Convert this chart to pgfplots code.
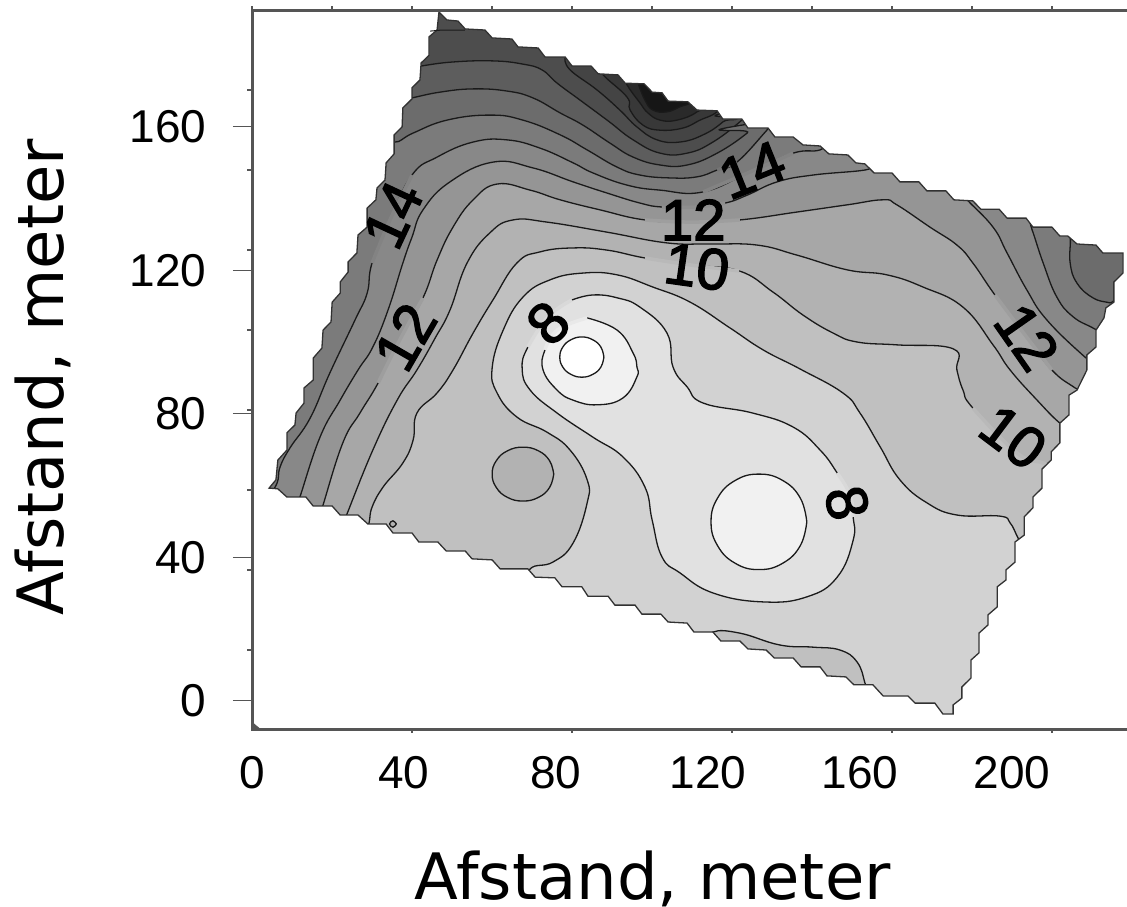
\documentclass[border=0pt]{standalone}
\usepackage{fontspec}
\setmainfont{Liberation Sans}
\newfontfamily\titlefont{DejaVu Sans}
\newfontfamily\labfont[FakeBold=2.5]{Liberation Sans}
\usepackage{pgfplots}
\pgfplotsset{compat=1.18}
\definecolor{ctr}{HTML}{1A1A1A}
\definecolor{spine}{HTML}{555555}
\definecolor{edgec}{RGB}{50,50,50}
\definecolor{g22}{RGB}{22,22,22}
\definecolor{g42}{RGB}{42,42,42}
\definecolor{g56}{RGB}{56,56,56}
\definecolor{g68}{RGB}{68,68,68}
\definecolor{g77}{RGB}{77,77,77}
\definecolor{g93}{RGB}{93,93,93}
\definecolor{g108}{RGB}{108,108,108}
\definecolor{g116}{RGB}{116,116,116}
\definecolor{g123}{RGB}{123,123,123}
\definecolor{g131}{RGB}{131,131,131}
\definecolor{g138}{RGB}{136,136,136}
\definecolor{g145}{RGB}{142,142,142}
\definecolor{g152}{RGB}{149,149,149}
\definecolor{g160}{RGB}{158,158,158}
\definecolor{g167}{RGB}{167,167,167}
\definecolor{g178}{RGB}{178,178,178}
\definecolor{g185}{RGB}{185,185,185}
\definecolor{g192}{RGB}{192,192,192}
\definecolor{g210}{RGB}{210,210,210}
\definecolor{g217}{RGB}{217,217,217}
\definecolor{g225}{RGB}{225,225,225}
\definecolor{g233}{RGB}{233,233,233}
\definecolor{g241}{RGB}{241,241,241}
\pgfplotsset{
  lev/.style={fill=#1,draw=ctr,line width=1.3pt,smooth,tension=0.75},
  gapl/.style={draw=#1,line width=3.5pt,smooth,tension=0.75}
}
\tikzset{lab/.style={font=\labfont\fontsize{58}{58}\selectfont,inner sep=0pt,anchor=center,text=black}}
\def\bnd{(49.2,191.9) (51.3,189.7) (54.2,189.4) (56.1,187.2) (61.3,186.9) (63.2,184.7) (68.4,184.4) (70,182.2) (75.3,181.9) (77.1,179.4) (82.4,179.4) (84.2,176.9) (89.2,176.9) (91.1,174.7) (96.3,174.4) (98.2,172.1) (103.2,171.9) (105.3,169.6) (107.9,169.4) (109.5,167.1) (114.7,166.9) (117.1,164.6) (122.4,164.4) (123.9,162.1) (128.9,162.1) (130.5,159.6) (135.8,159.6) (137.6,157.1) (142.4,157.1) (145,154.9) (149.5,154.6) (151.8,152.4) (156.8,152.1) (158.9,149.9) (161.3,149.6) (163.7,147.1) (168.4,147.1) (170.5,144.6) (175.5,144.6) (177.6,142.1) (182.6,142.1) (184.7,139.6) (189.7,139.3) (191.8,137) (196.6,137) (198.7,134.5) (203.7,134.5) (205.5,132) (210.5,132) (212.6,129.5) (214.7,129.5) (217.1,127.3) (222.1,127) (223.9,124.8) (229.2,124.8) (229.2,119.2) (226.8,116.7) (226.8,111.1) (224.7,109.5) (224.2,106.7) (222.1,103.3) (222.1,98.6) (219.7,96.4) (219.7,92.2) (217.1,86.6) (215,85.2) (215,79.7) (212.6,77.4) (212.6,71.9) (210.3,69.4) (210.3,67.1) (207.9,64.6) (207.9,59.3) (205.5,56.8) (205.5,53.8) (203.2,51.3) (203.2,46.2) (200.8,44.3) (200.8,38.7) (198.4,36.5) (198.4,33.7) (196.1,31.8) (196.1,26.2) (193.7,24) (193.7,21.2) (191.3,18.9) (191.3,13.4) (189.2,11.4) (189.2,6.4) (186.8,3.9) (186.8,0.8) (184.5,-1.1) (184.5,-3.6) (181.8,-3.6) (179.7,-0.6) (174.5,-0.6) (172.6,1.4) (166.1,1.4) (163.4,4.5) (158.4,4.5) (156.3,6.7) (151.3,7) (149.5,9.5) (144.5,9.5) (142.4,12) (137.4,12) (135.3,14.2) (130.5,14.5) (128.4,16.7) (123.4,16.7) (121.3,19.2) (116.3,19.2) (114.5,21.7) (109.5,22) (107.6,24.2) (102.6,24.2) (100.8,26.7) (95.5,26.7) (93.7,29.2) (88.4,29.2) (86.8,31.8) (81.6,31.8) (79.7,34.3) (74.5,34.5) (72.6,36.8) (65.3,36.8) (63.2,39.3) (57.9,39.6) (56.1,41.8) (51.1,41.8) (48.9,44.3) (43.9,44.3) (42.1,46.8) (37.1,46.8) (35.3,49.3) (30.5,49.3) (27.9,51.8) (23.2,51.8) (21.1,54.3) (16.1,54.3) (14.2,56.8) (9.2,56.8) (6.8,59.1) (4.5,59.3) (6.3,61.6) (6.8,67.1) (9.2,69.9) (9.2,74.7) (11.3,76.9) (11.6,80.2) (13.7,83) (13.7,87.2) (16.1,89.4) (16.1,95.5) (18.4,98.3) (18.7,103.3) (20.8,105.6) (21.1,111.1) (23.2,113.6) (23.2,116.7) (25.3,119.5) (25.3,122.3) (27.6,124.8) (27.9,129.8) (30.3,132) (30.3,137.3) (32.6,139.6) (32.9,142.9) (35,145.1) (35.3,149.9) (37.4,152.4) (37.4,157.7) (39.5,159.9) (39.7,165.2) (42.1,167.7) (42.1,170.8) (44.2,173) (44.5,177.7) (46.6,179.9) (46.6,185) (48.7,186.9) (49.2,191.9)}
\begin{document}
\begin{tikzpicture}
\useasboundingbox (-252pt,-177pt) rectangle (875pt,730pt);
\begin{axis}[
  scale only axis, width=875pt, height=719pt,
  xmin=0, xmax=230.26, ymin=-8.08, ymax=192.2,
  axis line style={draw=none},
  tick align=outside, major tick length=19pt,
  xtick={0,40,80,120,160,200}, ytick={0,40,80,120,160},
  x tick style={draw=none}, y tick style={draw=spine,line width=1pt},
  tick label style={/pgf/number format/assume math mode=true,font=\fontsize{46}{50}\selectfont},
  x tick label style={yshift=-4pt},
  y tick label style={xshift=-23pt},
  every axis x label/.style={at={(rel axis cs:0.458,-0.2072)},anchor=center},
  every axis y label/.style={at={(rel axis cs:-0.2386,0.491)},anchor=center,rotate=90},
  xlabel={\titlefont\fontsize{64}{70}\selectfont Afstand, meter},
  ylabel={\titlefont\fontsize{64}{70}\selectfont Afstand, meter},
]
% base and the dark pockets on the top edge
\addplot[fill=g77,draw=none] coordinates {(-5,-15) (240,-15) (240,200) (-5,200)};
\addplot[lev=g68] coordinates {(82.4,179.1) (83.7,175.8) (90.8,170.2) (96.8,164.6) (101.3,159.9) (106.6,156.3) (112.6,155.7) (118.7,157.7) (123.9,161.3) (127.1,165.2) (110,185)};
\addplot[lev=g56] coordinates {(91.1,177.2) (92.4,174.4) (98.7,168.2) (99.5,164.6) (102.9,160.4) (107.4,159) (113.4,159.6) (117.9,161.8) (122.4,164.1) (125.3,168) (110,185)};
\addplot[lev=g42] coordinates {(97.4,175.2) (98.7,171.6) (102.1,166.6) (104.2,163.8) (107.4,161.8) (111.8,161.8) (117.1,164.1) (120,168) (110,185)};
\addplot[lev=g22] coordinates {(100.8,175.2) (101.6,172.1) (103.4,167.4) (105.5,164.6) (109.2,164.1) (112.6,165.5) (115.8,166.9) (118.7,170.2) (110,182)};
% level below 17
\addplot[lev=g93] coordinates {(42.1,176.3) (44.7,176.9) (52.9,178) (63.4,178.3) (71.3,177.4) (76.3,175.8) (80.3,172.1) (86.3,167.4) (93.7,161.6) (100.3,156.3) (107.4,152.6) (114.5,152.6) (121.3,155.7) (128.9,161.8) (131.6,165.2) (232,180) (232,-8) (0,-8) (0,176.3)};
% below 16
\addplot[lev=g108] coordinates {(38.9,167.4) (42.1,168) (49.5,169.6) (58.2,170.5) (67.1,169.9) (73.9,168) (81.1,163.8) (87.1,160.4) (94.2,155.4) (100.3,151.5) (107.4,149.3) (114.5,149.3) (122.4,152.6) (130.3,158.2) (132.4,161) (232,175) (232,-8) (0,-8) (0,167.4)};
% below 15
\addplot[lev=g123] coordinates {(35,159) (37.6,155.7) (42.4,158.2) (51.3,161.8) (62.6,163.2) (71.3,161.8) (81.1,157.7) (88.2,153.5) (96.1,148.7) (102.1,146.5) (110,145.7) (117.1,146) (122.4,147.9) (127.6,150.1) (135.5,159) (138.4,162.4) (180,155) (210,135) (214,131) (215.3,129.2) (215.3,122) (217.1,116.4) (221.3,112.3) (225.8,110.9) (230.3,110) (232,60) (200,-8) (0,-8) (0,159)};
\addplot[gapl=g116] coordinates {(122.4,147.9) (125,149) (127.6,150.1)};
% below 14
\addplot[lev=g138] coordinates {(0,50) (4.2,56.8) (6.6,60.7) (7.4,65.2) (10,70.5) (15.3,78.8) (20.5,91.4) (27.1,106.1) (30.3,113.6) (31.6,122) (36.3,134) (42.1,146.5) (48.7,151.5) (58.2,155.7) (67.1,156.3) (75.8,154) (84.5,149.9) (89.7,147.1) (98.7,143.7) (107.4,142.3) (118.7,141.8) (131.1,147.4) (142.4,152.6) (149.5,153.5) (153.4,156.3) (175,155) (196.8,140.9) (203.4,136.2) (205.3,131.2) (208.2,122) (211.8,112.5) (216.1,107) (221.8,103.6) (227.1,100) (230,80) (200,-8) (0,-8)};
\addplot[gapl=g131] coordinates {(31.6,122) (36.3,134) (42.1,146.5)};
\addplot[gapl=g131] coordinates {(118.7,141.8) (131.1,147.4) (142.4,152.6)};
% below 13
\addplot[lev=g152] coordinates {(11.6,54) (12.6,56.8) (17.9,73.5) (23.2,83.8) (27.9,92.2) (31.8,98.6) (35.8,108.9) (39.7,122) (42.1,129.2) (45,136.8) (52.1,144.6) (63.4,150.1) (73.9,148.5) (84.5,144.6) (93.4,141.5) (102.1,138.7) (107.9,137.6) (116.6,137.6) (124.5,138.7) (130.3,140.9) (138.2,144.6) (147.6,146.5) (161.3,147.9) (163.9,149.3) (177.1,147.9) (186.3,142.3) (188.2,139.6) (195,132) (198.7,124.8) (203.9,114.5) (209.2,106.1) (219.2,95.8) (224.5,91.6) (230,70) (200,-8) (5,-8)};
\addplot[gapl=g145] coordinates {(107.9,137.6) (116.6,137.6) (124.5,138.7)};
% below 12
\addplot[lev=g167] coordinates {(17.9,51.8) (18.7,54.6) (23.9,71.9) (28.4,80.2) (33.2,88.6) (38.9,100.6) (45,112.3) (48.7,122.8) (52.9,132) (58.2,139.6) (64.5,144) (73.2,142.3) (81.1,139.6) (91.6,136.8) (103.4,134) (115.8,133.4) (128.4,134) (143.4,136.2) (156.6,138.2) (166.1,139.6) (169.7,138.2) (178.4,132) (185.5,127) (189.7,122) (195.5,113.1) (203.4,102) (210.5,92.2) (216.6,87.2) (221.8,83.8) (230,60) (200,-8) (10,-8)};
\addplot[gapl=g160] coordinates {(103.4,134) (115.8,133.4) (128.4,134)};
\addplot[gapl=g160] coordinates {(33.2,88.6) (38.9,100.6) (45,112.3)};
\addplot[gapl=g160] coordinates {(195.5,113.1) (203.4,102) (210.5,92.2)};
% below 11
\addplot[lev=g178] coordinates {(23.9,49) (25,52.1) (31.8,69.9) (38.2,83.8) (43.4,92.2) (48.2,101.1) (52.1,108.9) (56.6,122) (62.6,130.4) (68.7,134) (77.6,133.4) (93.4,130.6) (109.2,127.6) (120.5,127.3) (132.9,127) (143.4,124.2) (156.6,120.1) (167.1,118.7) (176.6,115.3) (187.1,109.7) (195,99.2) (199.5,92.2) (206.6,83.8) (212.6,77.4) (217.4,74.1) (230,50) (200,-8) (15,-8)};
% below 10
\addplot[lev=g192] coordinates {(29.7,46.2) (30.8,49.6) (31.6,54) (34.5,59.6) (39.7,66.3) (42.4,72.7) (43.4,80.2) (48.7,85.8) (52.9,92.2) (58.2,102.5) (63.4,111.7) (69.7,122) (75.8,125.1) (84.5,126.2) (93.4,125.6) (103.4,123.4) (115.8,121.4) (128.2,119.8) (137.1,113.9) (145,107.5) (152.9,102.5) (159.2,100) (169.7,99.2) (184.5,98.1) (185.5,92.2) (187.1,86.6) (189.7,81.6) (201.3,69.1) (208.2,66.3) (213.9,64.3) (230,40) (200,-8) (20,-8)};
\addplot[gapl=g185] coordinates {(103.4,123.4) (115.8,121.4) (128.2,119.8)};
\addplot[gapl=g185] coordinates {(189.7,81.6) (201.3,69.1) (208.2,66.3) (213.9,64.3)};
% the two islands above 10
\addplot[lev=g178] coordinates {(79.4,63.2) (78.3,66.95) (75.35,69.7) (71.3,70.7) (67.25,69.7) (64.3,66.95) (63.2,63.2) (64.3,59.45) (67.25,56.7) (71.3,55.7) (75.35,56.7) (78.3,59.45) (79.4,63.2)};
\addplot[lev=g178] coordinates {(38,49.3) (37.1,50.2) (36.2,49.3) (37.1,48.4) (38,49.3)};
% below 9
\addplot[lev=g210] coordinates {(71.8,30.9) (73.2,36.8) (79.2,38.7) (84.5,44) (88.2,55.2) (88.2,61.6) (83.7,69.9) (77.6,74.9) (69.7,79.1) (64.5,85.8) (63.2,92.8) (66.1,103.3) (71.3,112.5) (78.4,117.3) (87.1,119.2) (96.1,118.7) (105.5,115.3) (115.3,111.1) (125.8,103.9) (134.5,97.8) (144.2,92.5) (155.5,85.8) (160,80.2) (165.3,70.8) (170.5,61.6) (177.6,55.2) (185.5,51.8) (196.8,51.5) (199.5,49.6) (201.6,45.4) (204.7,39.3) (230,20) (200,-8) (30,-8)};
% sliver above 9 on the lower edge
\addplot[lev=g192] coordinates {(120,15.6) (121.3,19.2) (128.4,18.9) (138.9,15.6) (147.6,15) (154.7,14.2) (159.2,10.9) (161.3,5) (162.1,0.3) (144.2,3.1)};
% below 8
\addplot[lev=g225] coordinates {(84.2,111.7) (89.7,113.1) (96.1,112.3) (102.1,109.7) (109.2,102.5) (110.8,93) (114.5,87.5) (118.7,83) (131.8,80.2) (142.4,76.3) (149.5,69.9) (154,63.5) (157.4,57.4) (158.2,51.3) (158.2,44.8) (154,34.5) (146,29) (134.5,27.6) (121.3,30.1) (112.6,35.7) (107.9,40.1) (105.3,50.4) (103.4,59.6) (97.6,68) (89.7,73.5) (80.3,80.2) (73.2,86.6) (71.1,92.5) (72.6,98.6) (77.9,107) (84.2,111.7)};
\addplot[gapl=g217] coordinates {(154,63.5) (157.4,57.4) (158.2,51.3)};
\addplot[gapl=g217] coordinates {(72.6,98.6) (77.9,107) (84.2,111.7)};
% below 7
\addplot[lev=g241] coordinates {(88.2,106.7) (96.1,103.3) (100.3,96.9) (101.3,93) (101.3,90.3) (97.6,84.4) (90.8,82.5) (84.5,83.8) (80.3,86.6) (76.6,92.2) (77.1,97.8) (80.3,103.3) (88.2,106.7)};
\addplot[gapl=g233] coordinates {(77.1,97.8) (80.3,103.3) (88.2,106.7)};
\addplot[lev=g241] coordinates {(146,49.9) (144.3,56.5) (139.7,61.4) (133.4,63.2) (127.1,61.4) (122.5,56.5) (120.8,49.9) (122.5,43.3) (127.1,38.4) (133.4,36.6) (139.7,38.4) (144.3,43.3) (146,49.9)};
% centre
\addplot[lev=white] coordinates {(92.6,95.8) (91.8,98.6) (89.7,100.6) (86.8,101.4) (83.9,100.6) (81.8,98.6) (81,95.8) (81.8,93) (83.9,91) (86.8,90.2) (89.7,91) (91.8,93) (92.6,95.8)};
% white outside the measured area, then its edge
\edef\temp{\noexpand\addplot[fill=white,draw=none,even odd rule] coordinates {\bnd\space (49.2,200) (-5,200) (-5,-15) (240,-15) (240,200) (49.2,200) (49.2,191.9)};}\temp
\edef\temp{\noexpand\addplot[draw=edgec,line width=1.3pt] coordinates {\bnd};}\temp
\addplot[draw=ctr,line width=1pt] coordinates {(46.9,186.6) (50,186.9) (56,186.9)};
\addplot[fill=spine,draw=none] coordinates {(0,-8.08) (0,-5.8) (2.6,-8.08)};
% contour labels
\node[lab,rotate=65] at (axis cs:37.1,135.4) {14};
\node[lab,rotate=60] at (axis cs:40.3,101.4) {12};
\node[lab,rotate=45] at (axis cs:77.9,105.3) {8};
\node[lab,rotate=-78] at (axis cs:156.6,55.2) {8};
\node[lab,rotate=22] at (axis cs:131.6,147.9) {14};
\node[lab] at (axis cs:116.1,134) {12};
\node[lab,rotate=-8] at (axis cs:117.1,120.9) {10};
\node[lab,rotate=-55] at (axis cs:203.9,101.4) {12};
\node[lab,rotate=-37] at (axis cs:200.3,73.5) {10};
\end{axis}
% frame: left, top and bottom only
\draw[spine,line width=3pt] (875pt,719pt) -- (0,719pt) -- (0,0) -- (875pt,0);
\foreach \i in {0,...,10} {\draw[spine,line width=1.2pt] (80pt*\i,719pt) -- ++(0,5pt);}
\foreach \i in {1,...,8} {\draw[spine,line width=1.2pt] (0,80pt*\i) -- ++(-5pt,0);}
\foreach \i in {2,4,...,10} {\draw[spine,line width=1.2pt] (80pt*\i,0) -- ++(0,-3pt);}
\end{tikzpicture}
\end{document}
